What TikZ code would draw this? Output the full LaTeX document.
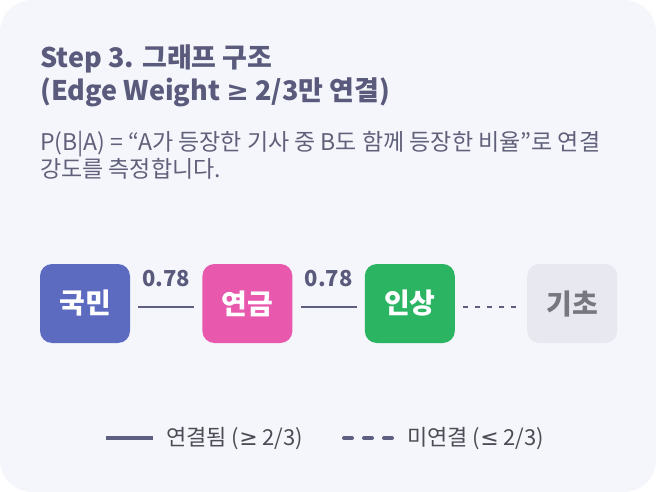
\documentclass[tikz,border=0pt]{standalone}
\usepackage{fontspec}
\setmainfont{Noto Sans CJK KR}
\newfontfamily\symfont{DejaVu Sans}
\usetikzlibrary{positioning}
\definecolor{bgcard}{HTML}{F5F6FB}
\definecolor{titlecol}{HTML}{5A5A7C}
\definecolor{subcol}{HTML}{60607A}
\definecolor{legcol}{HTML}{4C4C56}
\definecolor{edgecol}{HTML}{5E5E80}
\definecolor{kukmincol}{HTML}{5C6BC0}
\definecolor{yeongeumcol}{HTML}{E858AD}
\definecolor{insangcol}{HTML}{2BB563}
\definecolor{gichocol}{HTML}{E8E8F1}
\definecolor{gichotext}{HTML}{77777F}
\newcommand{\geqsign}{{\symfont ≥}}
\newcommand{\leqsign}{{\symfont ≤}}
\begin{document}
\begin{tikzpicture}[x=1pt,y=-1pt,
  word/.style={minimum width=90pt,minimum height=79pt,inner sep=0pt,rounded corners=12pt,
    font=\fontsize{28}{30}\selectfont\bfseries,text=white},
  linked/.style={edgecol,line width=2pt,shorten <=8pt,shorten >=8pt},
  unlinked/.style={linked,dash pattern=on 5pt off 7pt},
  weight/.style={midway,anchor=base,yshift=21pt,text=titlecol,font=\fontsize{22}{24}\selectfont\bfseries},
  legtext/.style={anchor=base west,inner sep=0pt,text=legcol,font=\fontsize{22}{24}\selectfont}]
\useasboundingbox (0,0) rectangle (656,492);
\fill[bgcard,rounded corners=32pt] (0,0) rectangle (656,492);
% title and explanation (base = last line)
\node(title) at (40,101)[anchor=base west,inner sep=0pt,align=left,text=titlecol,
  font=\fontsize{27}{33}\selectfont\bfseries] {Step 3. 그래프 구조\\(Edge Weight \geqsign\ 2/3만 연결)};
\node(expl) at (40,178)[anchor=base west,inner sep=0pt,align=left,text=subcol,
  font=\fontsize{23}{27.5}\selectfont] {P(B|A) = “A가 등장한 기사 중 B도 함께 등장한 비율”로 연결\\강도를 측정합니다.};
% word nodes
\node[word,fill=kukmincol](kukmin) at (85,303.5) {국민};
\node[word,fill=yeongeumcol,right=72pt of kukmin](yeongeum) {연금};
\node[word,fill=insangcol,right=72pt of yeongeum](insang) {인상};
\node[word,fill=gichocol,text=gichotext,right=72pt of insang](gicho) {기초};
% edges
\draw[linked] ([yshift=-3.5pt]kukmin.east) -- ([yshift=-3.5pt]yeongeum.west) node[weight]{0.78};
\draw[linked] ([yshift=-3.5pt]yeongeum.east) -- ([yshift=-3.5pt]insang.west) node[weight]{0.78};
\draw[unlinked] ([yshift=-3.5pt]insang.east) -- ([yshift=-3.5pt]gicho.west);
% legend
\draw[edgecol,line width=4pt] (106,438) -- (153,438);
\node(leglinked) at (166,445.5)[legtext] {연결됨 (\geqsign\ 2/3)};
\draw[edgecol,line width=4pt,line cap=round,dash pattern=on 8pt off 12pt] (344,438) -- (392,438);
\node(legunlinked) at (407,445.5)[legtext] {미연결 (\leqsign\ 2/3)};
\end{tikzpicture}
\end{document}
